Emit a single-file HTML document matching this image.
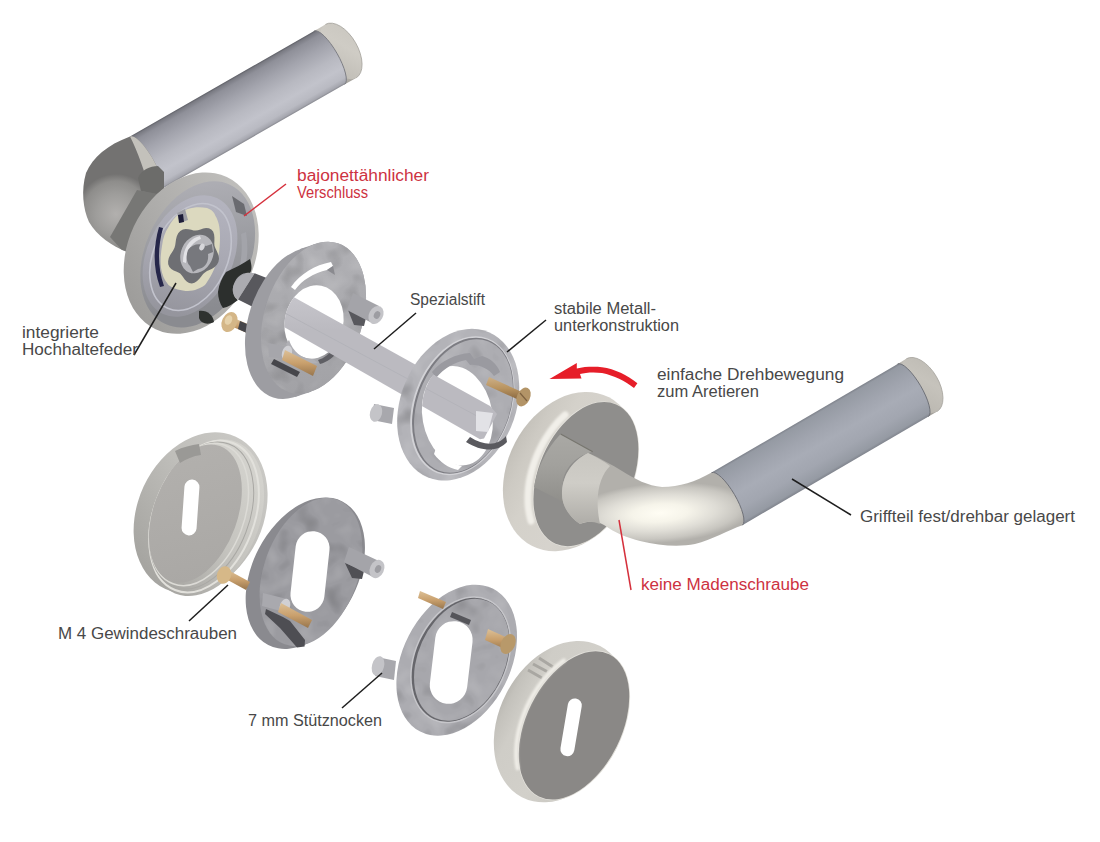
<!DOCTYPE html>
<html><head><meta charset="utf-8">
<style>
html,body{margin:0;padding:0;background:#fff;overflow:hidden;}
svg{display:block;}
text{font-family:"Liberation Sans",sans-serif;font-size:16px;fill:#484848;}
text.r{fill:#cd3241;}
</style></head><body>
<svg width="1100" height="842" viewBox="0 0 1100 842">
<defs>
<linearGradient id="cylTL" gradientUnits="userSpaceOnUse" x1="222.1" y1="83.6" x2="252.7" y2="137.1"><stop offset="0" stop-color="#5c5d64"/><stop offset="0.03" stop-color="#7a7b83"/><stop offset="0.1" stop-color="#8f9099"/><stop offset="0.3" stop-color="#a3a4ad"/><stop offset="0.55" stop-color="#b8b9c1"/><stop offset="0.75" stop-color="#c2c3cb"/><stop offset="0.9" stop-color="#b9bac2"/><stop offset="0.97" stop-color="#a5a6ae"/><stop offset="1" stop-color="#85868d"/></linearGradient>
<linearGradient id="cylR" gradientUnits="userSpaceOnUse" x1="804.7" y1="418.2" x2="835.4" y2="470.9"><stop offset="0" stop-color="#7d818a"/><stop offset="0.04" stop-color="#959aa3"/><stop offset="0.3" stop-color="#a1a5af"/><stop offset="0.5" stop-color="#a8acb6"/><stop offset="0.75" stop-color="#a2a6b0"/><stop offset="0.95" stop-color="#959aa3"/><stop offset="1" stop-color="#80848d"/></linearGradient>
<linearGradient id="capTL" gradientUnits="userSpaceOnUse" x1="325.5" y1="24.4" x2="356.1" y2="77.9"><stop offset="0" stop-color="#c9c6bf"/><stop offset="0.4" stop-color="#cfccc5"/><stop offset="0.85" stop-color="#c1beb7"/><stop offset="1" stop-color="#a8a59f"/></linearGradient>
<linearGradient id="capR" gradientUnits="userSpaceOnUse" x1="906.3" y1="358.8" x2="937.1" y2="411.5"><stop offset="0" stop-color="#bdbab3"/><stop offset="0.4" stop-color="#c6c3bc"/><stop offset="0.85" stop-color="#bbb8b1"/><stop offset="1" stop-color="#a3a09a"/></linearGradient>
<radialGradient id="elbTL" gradientUnits="userSpaceOnUse" cx="116" cy="214" r="40">
<stop offset="0" stop-color="#b2b0ae"/><stop offset="0.5" stop-color="#9e9d9b"/><stop offset="0.82" stop-color="#8e8d8b"/><stop offset="1" stop-color="#737271"/>
</radialGradient>
<linearGradient id="rimTL" gradientUnits="userSpaceOnUse" x1="240" y1="180" x2="140" y2="320">
<stop offset="0" stop-color="#c2c1be"/><stop offset="0.5" stop-color="#b0afad"/><stop offset="1" stop-color="#9c9b99"/>
</linearGradient>
<linearGradient id="tlrWall" gradientUnits="userSpaceOnUse" x1="180" y1="185" x2="245" y2="290">
<stop offset="0" stop-color="#adadb3"/><stop offset="0.5" stop-color="#9a9ba0"/><stop offset="1" stop-color="#8a8b90"/>
</linearGradient>
<linearGradient id="tlrPlate" gradientUnits="userSpaceOnUse" x1="175" y1="200" x2="200" y2="315">
<stop offset="0" stop-color="#b3b3be"/><stop offset="0.5" stop-color="#a8a8b2"/><stop offset="1" stop-color="#95959d"/>
</linearGradient>
<linearGradient id="roseRim" gradientUnits="userSpaceOnUse" x1="503" y1="0" x2="640" y2="0">
<stop offset="0" stop-color="#b9b6af"/><stop offset="0.06" stop-color="#c6c3bc"/><stop offset="0.15" stop-color="#cdcac3"/><stop offset="0.3" stop-color="#d4d1ca"/><stop offset="0.6" stop-color="#d6d3cd"/><stop offset="1" stop-color="#c8c6c0"/>
</linearGradient>
<linearGradient id="brcRim" gradientUnits="userSpaceOnUse" x1="495" y1="0" x2="630" y2="0">
<stop offset="0" stop-color="#b5b3ad"/><stop offset="0.08" stop-color="#c4c2bc"/><stop offset="0.2" stop-color="#cfcdc7"/><stop offset="0.5" stop-color="#d2d0ca"/><stop offset="1" stop-color="#c4c2bc"/>
</linearGradient>
<radialGradient id="bendR" cx="660" cy="513" r="60" gradientUnits="userSpaceOnUse" gradientTransform="translate(660 513) rotate(-4) scale(1.55 0.5) translate(-660 -513)">
<stop offset="0" stop-color="#fffdf4"/><stop offset="0.3" stop-color="#f6f4ea"/><stop offset="0.6" stop-color="#dfddd6"/><stop offset="0.85" stop-color="#c8c6c0"/><stop offset="1" stop-color="#b2b0ab"/>
</radialGradient>
<linearGradient id="neckR" gradientUnits="userSpaceOnUse" x1="0" y1="455" x2="0" y2="525">
<stop offset="0" stop-color="#c9c7c1"/><stop offset="0.4" stop-color="#cfcdc7"/><stop offset="1" stop-color="#aeaca7"/>
</linearGradient>
<linearGradient id="brass" x1="0" y1="0" x2="0" y2="1">
<stop offset="0" stop-color="#dcc097"/><stop offset="0.5" stop-color="#c9a06d"/><stop offset="1" stop-color="#98764d"/>
</linearGradient>
<linearGradient id="brassD" x1="0" y1="0" x2="0" y2="1">
<stop offset="0" stop-color="#cdb088"/><stop offset="0.5" stop-color="#b8935f"/><stop offset="1" stop-color="#876640"/>
</linearGradient>
<linearGradient id="coverF" gradientUnits="userSpaceOnUse" x1="150" y1="450" x2="240" y2="580">
<stop offset="0" stop-color="#b3b1ae"/><stop offset="1" stop-color="#a9a7a4"/>
</linearGradient>
<linearGradient id="coverRim" gradientUnits="userSpaceOnUse" x1="250" y1="440" x2="160" y2="590">
<stop offset="0" stop-color="#cbcac6"/><stop offset="0.45" stop-color="#bfbeba"/><stop offset="1" stop-color="#a3a29e"/>
</linearGradient>
<linearGradient id="coverWall" gradientUnits="userSpaceOnUse" x1="255" y1="470" x2="185" y2="590">
<stop offset="0" stop-color="#d3d2cd"/><stop offset="0.5" stop-color="#c4c3be"/><stop offset="1" stop-color="#a7a6a2"/>
</linearGradient>
<linearGradient id="spG" gradientUnits="userSpaceOnUse" x1="0" y1="300" x2="0" y2="330">
<stop offset="0" stop-color="#c5c4ca"/><stop offset="1" stop-color="#bbbac0"/>
</linearGradient>
<linearGradient id="r1face" gradientUnits="userSpaceOnUse" x1="290" y1="250" x2="330" y2="390">
<stop offset="0" stop-color="#b0b0b4"/><stop offset="0.5" stop-color="#a9a9ad"/><stop offset="1" stop-color="#a2a2a6"/>
</linearGradient>
<filter id="blur1" x="-20%" y="-20%" width="140%" height="140%"><feGaussianBlur stdDeviation="1.2"/></filter>
<filter id="mot" x="0" y="0" width="100%" height="100%">
<feTurbulence type="fractalNoise" baseFrequency="0.045" numOctaves="2" seed="7" result="n"/>
<feColorMatrix in="n" type="matrix" values="0 0 0 0 1  0 0 0 0 1  0 0 0 0 1  3 0 0 0 -1.55" result="w"/>
<feColorMatrix in="n" type="matrix" values="0 0 0 0 0  0 0 0 0 0  0 0 0 0 0  -3 0 0 0 1.35" result="b"/>
<feMerge result="m"><feMergeNode in="w"/><feMergeNode in="b"/></feMerge>
<feComposite in="m" in2="SourceGraphic" operator="in"/>
</filter>
<clipPath id="spClip1">
<ellipse cx="314" cy="322" rx="29.3" ry="36.9" transform="rotate(11.5 314 322)"/>
<path d="M326,250 L352,250 L400,270 L560,300 L560,500 L310,470 L300,400 Z" transform="translate(0,0)"/>
</clipPath>
<clipPath id="spClip2">
<ellipse cx="460" cy="414" rx="38" ry="52" transform="rotate(-6 460 414)"/>
</clipPath>
</defs>
<rect width="1100" height="842" fill="#fff"/>
<g id="tlh">
<ellipse cx="329.5" cy="57.6" rx="30.8" ry="17" transform="rotate(60.2 329.5 57.6)" fill="url(#capTL)"/><path d="M314.2,30.9 L344.8,84.3 L356.1,77.9 L325.5,24.4 Z" fill="url(#capTL)"/><ellipse cx="340.8" cy="51.1" rx="30.8" ry="17" transform="rotate(60.2 340.8 51.1)" fill="url(#capTL)"/>
<path d="M325.5,24.4 A30.8,17 60.2 0 1 356.1,77.9" fill="none" stroke="#a3a19b" stroke-width="0.8"/>
<path d="M130.0,136.4 L314.2,30.9 A30.8,9 60.2 0 1 344.8,84.3 L160.6,189.8 Z" fill="url(#cylTL)"/>
<path d="M314.2,30.9 A30.8,9 60.2 0 1 344.8,84.3" fill="none" stroke="#7d7e84" stroke-width="1"/>
<path d="M130.0,136.4 A30.8,9 60.2 0 1 160.6,189.8 L163,196 L150,228 L127,252 C112,246 97,236 89,222 C83,209 81,190 86,173 C93,157 107,145 130.0,136.4 Z" fill="url(#elbTL)"/>
<path d="M130.0,136.4 A30.8,9 60.2 0 1 160.6,189.8 L150,192 C145,172 138,152 130.0,136.4 Z" fill="#c3c1bb"/>
<path d="M138,178 C141,170 150,166 158,166 L164,172 L164,189 L157,194 L141,191 Z" fill="#6c6c6a"/>
<path d="M137,190 L158,194 L160,201 L131,252 L122,250 L110,237 Z" fill="#777775"/>
</g>
<g id="tlr">
<ellipse cx="191.2" cy="253.1" rx="63.3" ry="84.0" transform="rotate(25.1 191.2 253.1)" fill="url(#rimTL)"/>
<ellipse cx="197.7" cy="254.4" rx="52.3" ry="76.8" transform="rotate(24.8 197.7 254.4)" fill="url(#tlrWall)"/>
<path d="M232,196 L244,204 L247,216 L236,212 Z" fill="#6a6b70"/>
<path d="M246,232 C249,250 247,268 240,284 L236,280 C241,266 243,250 241,234 Z" fill="#a3a4aa"/>
<ellipse cx="190.0" cy="256.0" rx="43.0" ry="64.0" transform="rotate(24.8 190.0 256.0)" fill="url(#tlrPlate)"/>
<ellipse cx="190.5" cy="257.0" rx="37.0" ry="56.0" transform="rotate(24.0 190.5 257.0)" fill="none" stroke="#c2c3cd" stroke-width="1.6"/>
<path d="M250,259 C252,266 252,270 250,273 C243,272 237,276 234,284 C231,291 234,298 238,300 C233,304 228,307 223,308 C220,304 218,298 218,292 C219,284 222,278 226,272 C234,268 243,264 250,259 Z" fill="#2c2f2d"/>
<path d="M199,311 C207,310 213,315 214,322 C208,325 201,324 199,318 Z" fill="#2f3230"/>
<path d="M179,214 C186,208 196,206 207,208 C212,210 214,212 215.5,216 C218,220 220,226 220,236 C220,248 219,257 215.5,265.5 C212,275 208,281 205,285 C198,290 192,291 185.6,291 C178,290 172,288 168.5,285 C164,280 162,274 161,268 C160,260 161,252 162,246 C163,238 165,232 168.5,227 C171,222 175,217 179,214 Z" fill="#dcd9bf"/>
<path d="M163,228 C158,246 157,266 164,286 L160,287 C153,268 153,248 159,227 Z" fill="#26274a"/>
<path d="M177,213 L185,209 L188,220 L180,223 Z" fill="#9d9ea5"/>
<path d="M178,215 L183,214 L184,222 L179,223 Z" fill="#1d1d38"/>
<path d="M216.9,264.7 L214.7,267.0 L212.1,268.7 L209.4,269.9 L207.0,271.1 L204.9,272.4 L203.1,274.1 L201.4,276.3 L199.4,278.7 L197.1,281.0 L194.5,282.7 L191.8,283.4 L189.1,283.0 L186.7,281.6 L184.7,279.5 L183.2,277.3 L181.7,275.2 L180.2,273.5 L178.4,272.4 L176.2,271.4 L173.7,270.4 L171.3,269.0 L169.4,266.9 L168.2,264.3 L168.1,261.2 L168.8,258.1 L170.2,255.1 L171.9,252.4 L173.4,250.0 L174.5,247.7 L175.2,245.2 L175.6,242.5 L176.0,239.4 L176.8,236.2 L178.2,233.3 L180.3,230.9 L182.9,229.5 L185.7,228.9 L188.6,229.2 L191.2,229.8 L193.6,230.4 L195.8,230.6 L198.0,230.2 L200.5,229.5 L203.2,228.6 L206.1,228.1 L208.9,228.3 L211.3,229.5 L213.1,231.6 L214.1,234.4 L214.4,237.5 L214.4,240.6 L214.3,243.4 L214.5,245.8 L215.3,248.1 L216.4,250.3 L217.6,252.9 L218.6,255.7 L219.0,258.8 L218.4,261.9 Z" fill="#6e6f73"/>
<ellipse cx="197.0" cy="254.0" rx="16.0" ry="20.0" transform="rotate(25.0 197.0 254.0)" fill="#b7b7bc"/>
<path d="M183,262 C183,248 190,238 200,236 L201,239 C192,242 186,251 186,263 Z" fill="#e2e2e6"/>
<path d="M188,250 C192,244 200,243 206,246 L212,244 L213,252 L208,254 C209,262 205,268 198,269 L193,272 L190,266 C186,262 186,255 188,250 Z" fill="#77787d"/>
<ellipse cx="202.0" cy="247.0" rx="2.5" ry="3.5" transform="rotate(25.0 202.0 247.0)" fill="#d6d6da"/>
</g>
<path d="M254.6,273.3 C247,271 238,276 234,284 C231,291 234,297 238,299.4 Z" fill="#ababb0"/>
<path d="M254.6,273.3 L268,278.5 L258,304 L252,306.5 L238,299.4 Z" fill="#58585d"/>
<path d="M236,319 L250,325 L247,333 L233,327 Z" fill="url(#brass)"/>
<path d="M240,321 L252,326 L249,334 L238,329 Z" fill="#45454a"/>
<ellipse cx="229.5" cy="322.0" rx="7.5" ry="10.5" transform="rotate(25.0 229.5 322.0)" fill="#d4b687"/>
<ellipse cx="228.5" cy="320.0" rx="3.5" ry="5.0" transform="rotate(25.0 228.5 320.0)" fill="#e6d2ab"/>
<g id="ring1">
<ellipse cx="297.5" cy="323.0" rx="49" ry="78.3" transform="rotate(18.1 297.5 323.0)" fill="#9d9da2"/><path d="M300.1,249.0 L294.9,397.0 L310.9,391.7 L316.1,243.7 Z" fill="#9d9da2"/><ellipse cx="313.5" cy="317.7" rx="49" ry="78.3" transform="rotate(18.1 313.5 317.7)" fill="#9d9da2"/>
<ellipse cx="313.5" cy="317.7" rx="49.0" ry="78.3" transform="rotate(18.1 313.5 317.7)" fill="url(#r1face)"/>
<ellipse cx="313.5" cy="317.7" rx="49.0" ry="78.3" transform="rotate(18.1 313.5 317.7)" fill="#888" filter="url(#mot)" opacity="0.16"/>
<ellipse cx="314.0" cy="322.0" rx="29.3" ry="36.9" transform="rotate(11.5 314.0 322.0)" fill="#fff"/>
<path d="M289,340 C293,352 302,359 313,359 L318,363 C303,365 290,357 286,344 Z" fill="#b0b0b5"/>
<path d="M341,328 C339,344 331,356 318,360 L320,364 C335,360 344,346 345,330 Z" fill="#5f5f64"/>
<path d="M291,287 C300,274 315,265 331,262 L333,266 L327,270 C314,273 302,280 295,290 Z" fill="#fff"/>
<path d="M327,270 L333,266 L335,275 Z" fill="#8a8a8f"/>
<path d="M268,343 L288,347 L290,360 L269,357 Z" fill="#a6a6ab"/>
<ellipse cx="287.0" cy="353.0" rx="5.0" ry="7.5" transform="rotate(15.0 287.0 353.0)" fill="#d0d0d4"/>
<path d="M274,359 L300,372 L297,377 L271,364 Z" fill="#46464b"/>
<path d="M285,350 L317,366 L313,376 L282,360 Z" fill="url(#brass)"/>
</g>
<g clip-path="url(#spClip1)"><path d="M285,292.2 L490,406.0 L497,414 L484,438.5 L480,439.2 L280,324.6 Z" fill="url(#spG)"/><path d="M283,312 L490,423" stroke="#b3b3b9" stroke-width="1"/></g>
<path d="M348,310 L366,318 L364,326 L354,325 Z" fill="#58585d"/>
<path d="M353,293 L379,306 L372,323 L347,310 Z" fill="#a4a4a9"/>
<ellipse cx="376.0" cy="315.0" rx="7.0" ry="9.5" transform="rotate(28.0 376.0 315.0)" fill="#c4c4c8"/>
<ellipse cx="377.0" cy="315.0" rx="3.0" ry="4.0" transform="rotate(28.0 377.0 315.0)" fill="#9d9da2"/>
<g id="ring2">
<ellipse cx="458.2" cy="404.7" rx="57.3" ry="78.7" transform="rotate(22.9 458.2 404.7)" fill="#b3b3b8"/>
<ellipse cx="458.2" cy="404.7" rx="57.3" ry="78.7" transform="rotate(22.9 458.2 404.7)" fill="#888" filter="url(#mot)" opacity="0.16"/>
<ellipse cx="462.3" cy="405.7" rx="48.7" ry="71.9" transform="rotate(20.6 462.3 405.7)" fill="#d2d2d6"/>
<ellipse cx="462.8" cy="405.7" rx="47.3" ry="70.5" transform="rotate(20.6 462.8 405.7)" fill="#7c7c82"/>
<ellipse cx="463.5" cy="406.0" rx="46.0" ry="69.2" transform="rotate(20.6 463.5 406.0)" fill="#adadb2"/>
<ellipse cx="463.5" cy="406.0" rx="46.0" ry="69.2" transform="rotate(20.6 463.5 406.0)" fill="#888" filter="url(#mot)" opacity="0.12"/>
<ellipse cx="457.4" cy="415.7" rx="35.0" ry="50.2" transform="rotate(-10.1 457.4 415.7)" fill="#fff"/>
<path d="M432,372 C442,360 456,354 470,353 L474,359 L482,356 C490,358 497,364 500,372 L494,376 C488,368 478,364 470,365 L466,360 C455,362 444,368 436,378 Z" fill="#9a9aa0"/>
<path d="M436,448 C442,458 452,464 462,466 L458,470 C448,468 440,462 434,454 Z" fill="#fff"/>
</g>
<g clip-path="url(#spClip2)"><path d="M285,292.2 L490,406.0 L497,414 L484,438.5 L480,439.2 L280,324.6 Z" fill="url(#spG)"/><path d="M283,312 L490,423" stroke="#b3b3b9" stroke-width="1"/></g>
<path d="M476,411 L493,413 L488,432 L476,431 Z" fill="#e2e2e6"/>
<path d="M470,437 C484,446 498,446 506,436 L507,442 C498,452 482,452 466,442 Z" fill="#5a5a5f"/>
<path d="M374,404 L394,408 L392,424 L372,420 Z" fill="#a8a8ad"/>
<ellipse cx="376.0" cy="413.0" rx="6.0" ry="9.0" transform="rotate(15.0 376.0 413.0)" fill="#c4c4c8"/>
<path d="M489,377 L522,392 L519,400 L486,385 Z" fill="url(#brassD)"/>
<ellipse cx="523.5" cy="397.0" rx="6.5" ry="10.0" transform="rotate(25.0 523.5 397.0)" fill="#b39467"/>
<path d="M520,393 L527,401" stroke="#7d6140" stroke-width="1.2"/>
<path d="M549.5,378.9 L576.8,363.1 L576.8,368.4 C585,366.5 595,366.5 602,367.2 C615,369 627,375 637.4,383.2 L634,388 C625,381 614,375.5 602,373 C594,371.8 585,372.5 580,374.1 L581.5,378.4 Z" fill="#e61e29"/>
<g id="rr">
<ellipse cx="570.4" cy="471.6" rx="62.4" ry="83.7" transform="rotate(27.5 570.4 471.6)" fill="url(#roseRim)"/>
<ellipse cx="585.9" cy="474.1" rx="47.5" ry="76.5" transform="rotate(23.5 585.9 474.1)" fill="#e6e4de"/>
<ellipse cx="585.9" cy="474.1" rx="46.7" ry="76.0" transform="rotate(23.5 585.9 474.1)" fill="#8f8e8c"/>
<path d="M565.2,414.9 L561.4,418.4 L557.8,422.2 L554.4,426.2 L551.0,430.5 L547.9,435.1 L544.9,439.8 L542.1,444.7 L539.6,449.7 L537.2,454.9 L535.1,460.2 L533.3,465.5 L531.7,470.9 L530.4,476.3 L529.3,481.7 L528.6,487.0 L528.1,492.3 L527.9,497.5 L528.0,502.6 L528.3,507.5 L529.0,512.2 L529.9,516.8 L531.1,521.1" fill="none" stroke="#f1efe9" stroke-width="7" stroke-linecap="round" filter="url(#blur1)"/>
<linearGradient id="bossG" gradientUnits="userSpaceOnUse" x1="0" y1="432" x2="0" y2="505"><stop offset="0" stop-color="#aaa9a5"/><stop offset="0.45" stop-color="#a2a19d"/><stop offset="1" stop-color="#8e8d89"/></linearGradient>
<path d="M560.6,434 L592.7,451.7 C578,455 566,466 563,480 C562,490 563,499 565,505 L558.8,499.8 L534,487 C537,470 545,450 560.6,434 Z" fill="url(#bossG)"/>
<path d="M560.6,434 L592.7,451.7" stroke="#77766f" stroke-width="1.2"/>
<ellipse cx="913.1" cy="390.2" rx="30.5" ry="17" transform="rotate(59.7 913.1 390.2)" fill="url(#capR)"/><path d="M897.7,363.9 L928.5,416.5 L937.1,411.5 L906.3,358.8 Z" fill="url(#capR)"/><ellipse cx="921.7" cy="385.2" rx="30.5" ry="17" transform="rotate(59.7 921.7 385.2)" fill="url(#capR)"/>
<path d="M906.3,358.8 A30.5,17 59.7 0 1 937.1,411.5" fill="none" stroke="#a3a19b" stroke-width="0.8"/>
<path d="M711.6,472.6 L897.7,363.9 A30.5,9 59.7 0 1 928.5,416.5 L742.4,525.2 Z" fill="url(#cylR)"/>
<path d="M897.7,363.9 A30.5,9 59.7 0 1 928.5,416.5" fill="none" stroke="#6f7178" stroke-width="1"/>
<path d="M588,453 C600,458 612,465 622,471 C635,479 648,486 662,487 C680,487 695,482 711.6,472.6 A30.5,9 59.7 0 1 742.4,525.2 C728,530 712,540 695,544 C680,547 660,546 640,541 C628,538 615,533 604,525 C596,520 588,521 580,524 C568,516 562,505 562,494 C562,478 570,462 588,453 Z" fill="url(#bendR)"/>
<path d="M711.6,472.6 A30.5,9 59.7 0 1 742.4,525.2" fill="none" stroke="#6f7178" stroke-width="1"/>
<path d="M588,453 C596,457 604,461 610,466 C600,476 594,495 600,524 C592,521 586,521 580,524 C568,516 562,505 562,494 C562,478 570,462 588,453 Z" fill="url(#neckR)"/>
</g>
<g id="blc">
<ellipse cx="200.6" cy="512.9" rx="62.8" ry="83.9" transform="rotate(24.8 200.6 512.9)" fill="url(#coverRim)"/>
<ellipse cx="205.9" cy="517.7" rx="53.2" ry="81.8" transform="rotate(22.2 205.9 517.7)" fill="url(#coverWall)"/>
<ellipse cx="204.0" cy="516.5" rx="50.0" ry="79.0" transform="rotate(21.5 204.0 516.5)" fill="none" stroke="#e2e1dc" stroke-width="2"/>
<ellipse cx="201.5" cy="515.5" rx="47.5" ry="76.5" transform="rotate(21.0 201.5 515.5)" fill="none" stroke="#a9a8a4" stroke-width="1"/>
<ellipse cx="199.0" cy="514.5" rx="45.0" ry="74.0" transform="rotate(20.5 199.0 514.5)" fill="none" stroke="#dcdbd6" stroke-width="1.5"/>
<ellipse cx="195.4" cy="513.5" rx="42.0" ry="71.9" transform="rotate(19.9 195.4 513.5)" fill="url(#coverF)"/>
<path d="M175,451 C183,447 191,445 199,444 L201,455 C193,456 186,459 180,463 Z" fill="#9a9996"/>
<rect x="183" y="479.5" width="15" height="56" rx="7.5" transform="rotate(4 190.5 507.5)" fill="#fff"/>
</g>
<g id="ring3">
<ellipse cx="305.3" cy="573.2" rx="52.6" ry="80.8" transform="rotate(27.3 305.3 573.2)" fill="#8a8a8f"/>
<ellipse cx="311.0" cy="572.0" rx="47.0" ry="77.0" transform="rotate(20.0 311.0 572.0)" fill="#9b9ba0"/>
<ellipse cx="311.0" cy="572.0" rx="47.0" ry="77.0" transform="rotate(20.0 311.0 572.0)" fill="#888" filter="url(#mot)" opacity="0.16"/>
<rect x="293" y="531" width="34" height="81" rx="17" transform="rotate(6.3 310 571.6)" fill="#fff"/>
<path d="M266,609 L283,617 L290,621 L305,640 L304.6,646.5 L297,647.5 L280,628 L265,614 Z" fill="#4e4e53"/>
<path d="M345,563 L364,571 L362,579 L352,578 Z" fill="#505055"/>
<path d="M349,547 L379,561 L373,577 L344,562 Z" fill="#a4a4a9"/>
<ellipse cx="377.0" cy="569.0" rx="7.0" ry="9.5" transform="rotate(25.0 377.0 569.0)" fill="#c4c4c8"/>
<ellipse cx="378.0" cy="569.0" rx="3.0" ry="4.0" transform="rotate(25.0 378.0 569.0)" fill="#9d9da2"/>
<path d="M263,593 L287,599 L288,613 L262,606 Z" fill="#a9a9ae"/>
<ellipse cx="285.0" cy="606.0" rx="5.0" ry="7.5" transform="rotate(20.0 285.0 606.0)" fill="#d0d0d4"/>
<path d="M281,603 L312,620 L308,628 L278,612 Z" fill="url(#brass)"/>
<path d="M228,570 L250,582 L246,590 L224,578 Z" fill="url(#brass)"/>
<ellipse cx="224.0" cy="575.0" rx="7.0" ry="9.0" transform="rotate(20.0 224.0 575.0)" fill="#d6b888"/>
</g>
<g id="ring4">
<ellipse cx="456.7" cy="660.2" rx="53.9" ry="80.2" transform="rotate(27.1 456.7 660.2)" fill="#acacb1"/>
<ellipse cx="456.7" cy="660.2" rx="53.9" ry="80.2" transform="rotate(27.1 456.7 660.2)" fill="#888" filter="url(#mot)" opacity="0.16"/>
<ellipse cx="460.7" cy="659.8" rx="46.5" ry="66.5" transform="rotate(24.6 460.7 659.8)" fill="#c6c6ca"/>
<ellipse cx="460.7" cy="659.8" rx="45.0" ry="65.0" transform="rotate(24.6 460.7 659.8)" fill="#66666b"/>
<ellipse cx="461.7" cy="659.8" rx="43.5" ry="64.0" transform="rotate(24.6 461.7 659.8)" fill="#a7a7ac"/>
<ellipse cx="461.7" cy="659.8" rx="43.5" ry="64.0" transform="rotate(24.6 461.7 659.8)" fill="#888" filter="url(#mot)" opacity="0.14"/>
<rect x="432.5" y="621" width="37.5" height="83" rx="18.7" transform="rotate(6.8 451.2 662.2)" fill="#fff"/>
<path d="M377,657 L396,661 L394,680 L375,676 Z" fill="#a8a8ad"/>
<ellipse cx="378.0" cy="666.0" rx="6.0" ry="10.0" transform="rotate(15.0 378.0 666.0)" fill="#c4c4c8"/>
<path d="M420,591 L446,602 L443,609 L418,598 Z" fill="url(#brass)"/>
<path d="M452,612 L471,620 L469,625 L450,617 Z" fill="#55555a"/>
<path d="M488,629 L510,639 L507,650 L485,640 Z" fill="url(#brass)"/>
<ellipse cx="508.0" cy="644.0" rx="7.0" ry="10.5" transform="rotate(25.0 508.0 644.0)" fill="#b8996a"/>
</g>
<g id="brc">
<ellipse cx="561.0" cy="721.6" rx="61.5" ry="85.1" transform="rotate(27.4 561.0 721.6)" fill="url(#brcRim)"/>
<ellipse cx="574.0" cy="725.4" rx="48.5" ry="80.0" transform="rotate(26.3 574.0 725.4)" fill="#e4e2dc"/>
<ellipse cx="574.0" cy="725.4" rx="47.6" ry="79.3" transform="rotate(26.3 574.0 725.4)" fill="#8a8886"/>
<rect x="564.1" y="698.1" width="14" height="58.4" rx="7" transform="rotate(9.6 571.1 727.3)" fill="#fff"/>
<path d="M539,658 L553,667 M533,664 L547,671.5 M528,670 L542,678" stroke="#a9a7a2" stroke-width="3"/>
<path d="M563.9,660.4 L559.9,663.4 L556.0,666.6 L552.2,670.2 L548.4,674.0 L544.8,678.1 L541.4,682.4 L538.1,687.0 L535.0,691.7 L532.1,696.6 L529.3,701.6 L526.8,706.8 L524.6,712.1 L522.6,717.4 L520.8,722.8 L519.3,728.2 L518.1,733.5 L517.2,738.8 L516.5,744.1 L516.2,749.2 L516.1,754.3 L516.3,759.2 L516.8,763.9 L517.6,768.4" fill="none" stroke="#efede7" stroke-width="4" stroke-linecap="round" filter="url(#blur1)"/>
</g>
<g stroke-width="1.5" fill="none">
<line x1="286" y1="184" x2="244" y2="216" stroke="#d5303c"/>
<line x1="176" y1="283" x2="134" y2="355" stroke="#1e1e1e"/>
<line x1="416" y1="313" x2="374" y2="349" stroke="#1e1e1e"/>
<line x1="546" y1="320" x2="507" y2="352" stroke="#1e1e1e"/>
<line x1="792" y1="479" x2="851" y2="515" stroke="#1e1e1e"/>
<line x1="619" y1="520" x2="631" y2="590" stroke="#d5303c"/>
<line x1="189" y1="621" x2="228" y2="585" stroke="#1e1e1e"/>
<line x1="342" y1="708" x2="382" y2="673" stroke="#1e1e1e"/>
</g>
<text class="r" x="297" y="181" textLength="132" lengthAdjust="spacingAndGlyphs">bajonettähnlicher</text>
<text class="r" x="297" y="198" textLength="71" lengthAdjust="spacingAndGlyphs">Verschluss</text>
<text x="22" y="338" textLength="77" lengthAdjust="spacingAndGlyphs">integrierte</text>
<text x="22" y="355" textLength="116" lengthAdjust="spacingAndGlyphs">Hochhaltefeder</text>
<text x="410" y="305" textLength="75" lengthAdjust="spacingAndGlyphs">Spezialstift</text>
<text x="554" y="314" textLength="102" lengthAdjust="spacingAndGlyphs">stabile Metall-</text>
<text x="554" y="331" textLength="125" lengthAdjust="spacingAndGlyphs">unterkonstruktion</text>
<text x="657" y="380" textLength="187" lengthAdjust="spacingAndGlyphs">einfache Drehbewegung</text>
<text x="657" y="397" textLength="102" lengthAdjust="spacingAndGlyphs">zum Aretieren</text>
<text x="860" y="522" textLength="215" lengthAdjust="spacingAndGlyphs">Griffteil fest/drehbar gelagert</text>
<text class="r" x="641" y="590" textLength="168" lengthAdjust="spacingAndGlyphs">keine Madenschraube</text>
<text x="58" y="639" textLength="179" lengthAdjust="spacingAndGlyphs">M 4 Gewindeschrauben</text>
<text x="248" y="726" textLength="134" lengthAdjust="spacingAndGlyphs">7 mm Stütznocken</text>
</svg>
</body></html>
